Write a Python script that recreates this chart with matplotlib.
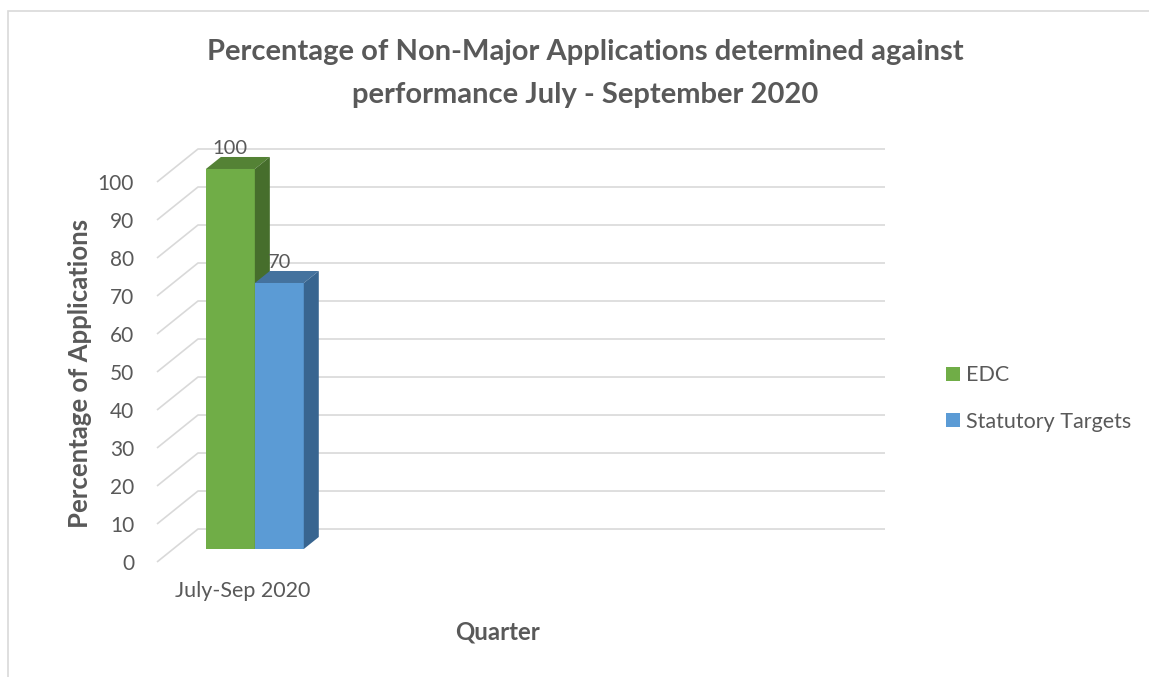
import matplotlib
matplotlib.use('Agg')
import matplotlib.pyplot as plt
from matplotlib.patches import Polygon, Patch, Rectangle

# ---- data ----
categories = ['July-Sep 2020', '', '', '']
series_names = ['EDC', 'Statutory Targets']
edc = [100]
statutory = [70]
yticks = list(range(0, 101, 10))
title = 'Percentage of Non-Major Applications determined against\nperformance July - September 2020'
ylabel = 'Percentage of Applications'
xlabel = 'Quarter'

plt.rcParams['font.family'] = ['Lato', 'DejaVu Sans']

TEXT = '#595959'
GRID = '#D9D9D9'
front_colors = ['#70AD47', '#5B9BD5']
top_colors = ['#548235', '#44729E']
side_colors = ['#466E2C', '#386590']

W, H = 1149, 677
fig = plt.figure(figsize=(W / 100, H / 100), dpi=100)

# outer chart border (top & left visible)
fig.patches.append(Rectangle((8 / W, -0.05), 1.2, (1 - 11 / H) + 0.05,
                             transform=fig.transFigure, fill=False,
                             edgecolor='#D9D9D9', lw=1.2))

ax = fig.add_axes([157 / W, 1 - 562 / H, (885 - 157) / W, (562 - 149) / H])

n = len(categories)
# pseudo-3D geometry (style constants)
WX, WY = 0.2387, 8.68     # wall depth in (category, value) units
BX, BY = 0.169, 5.26      # bar front-face offset from back wall
BW = 0.285                # bar width
DX, DY = 0.0873, 3.16     # bar depth

ax.set_xlim(-WX, n)
ax.set_ylim(-WY, yticks[-1])

# gridlines: side wall diagonal + back wall horizontal
for v in yticks:
    ax.plot([-WX, 0, n], [v - WY, v, v], color=GRID, lw=1.2, zorder=1,
            solid_capstyle='butt', clip_on=False)

series = [edc, statutory]
for i, vals in enumerate(series):
    z = 3 + i
    for c, v in enumerate(vals):
        x0 = c + 0.5 - BX - BW + i * BW
        x1 = x0 + BW
        bot = -BY
        top = v - BY
        ax.bar(x0, v, width=BW, bottom=bot, align='edge',
               color=front_colors[i], zorder=z, linewidth=0)
        ax.add_patch(Polygon([(x0, top), (x0 + DX, top + DY), (x1 + DX, top + DY), (x1, top)],
                             closed=True, facecolor=top_colors[i], edgecolor='none', zorder=z))
        ax.add_patch(Polygon([(x1, bot), (x1 + DX, bot + DY), (x1 + DX, top + DY), (x1, top)],
                             closed=True, facecolor=side_colors[i], edgecolor='none', zorder=z))
        ax.text(x0 + BW / 2, top + DY, f'{v}', ha='center', va='bottom',
                fontsize=14.5, color=TEXT, zorder=10)

ax.set_yticks([v - WY for v in yticks])
ax.set_yticklabels([str(v) for v in yticks])
ax.set_xticks([c + 0.5 - WX for c in range(n)])
ax.set_xticklabels(categories)
ax.tick_params(axis='y', length=0, pad=16.5, labelsize=15, labelcolor=TEXT)
ax.tick_params(axis='x', length=0, pad=14, labelsize=15.5, labelcolor=TEXT)
for s in ax.spines.values():
    s.set_visible(False)
ax.set_facecolor('none')

fig.text(585 / W, 1 - 73.5 / H, title, ha='center', va='center', fontsize=21,
         fontweight='bold', color=TEXT, linespacing=1.8, multialignment='center')
fig.text(80 / W, 1 - 373 / H, ylabel, ha='center', va='center', rotation=90,
         fontsize=18.5, fontweight='bold', color=TEXT)
fig.text(498 / W, 1 - 632 / H, xlabel, ha='center', va='center',
         fontsize=17.3, fontweight='bold', color=TEXT)

handles = [Patch(facecolor=front_colors[i], edgecolor='none') for i in range(2)]
fig.legend(handles, series_names, loc='center left', bbox_to_anchor=(946 / W, 1 - 398.5 / H),
           frameon=False, fontsize=15.5, handlelength=0.65, handleheight=0.65,
           handletextpad=0.3, labelspacing=1.22, borderpad=0, borderaxespad=0,
           labelcolor=TEXT)

fig.savefig('out.png', dpi=100)
